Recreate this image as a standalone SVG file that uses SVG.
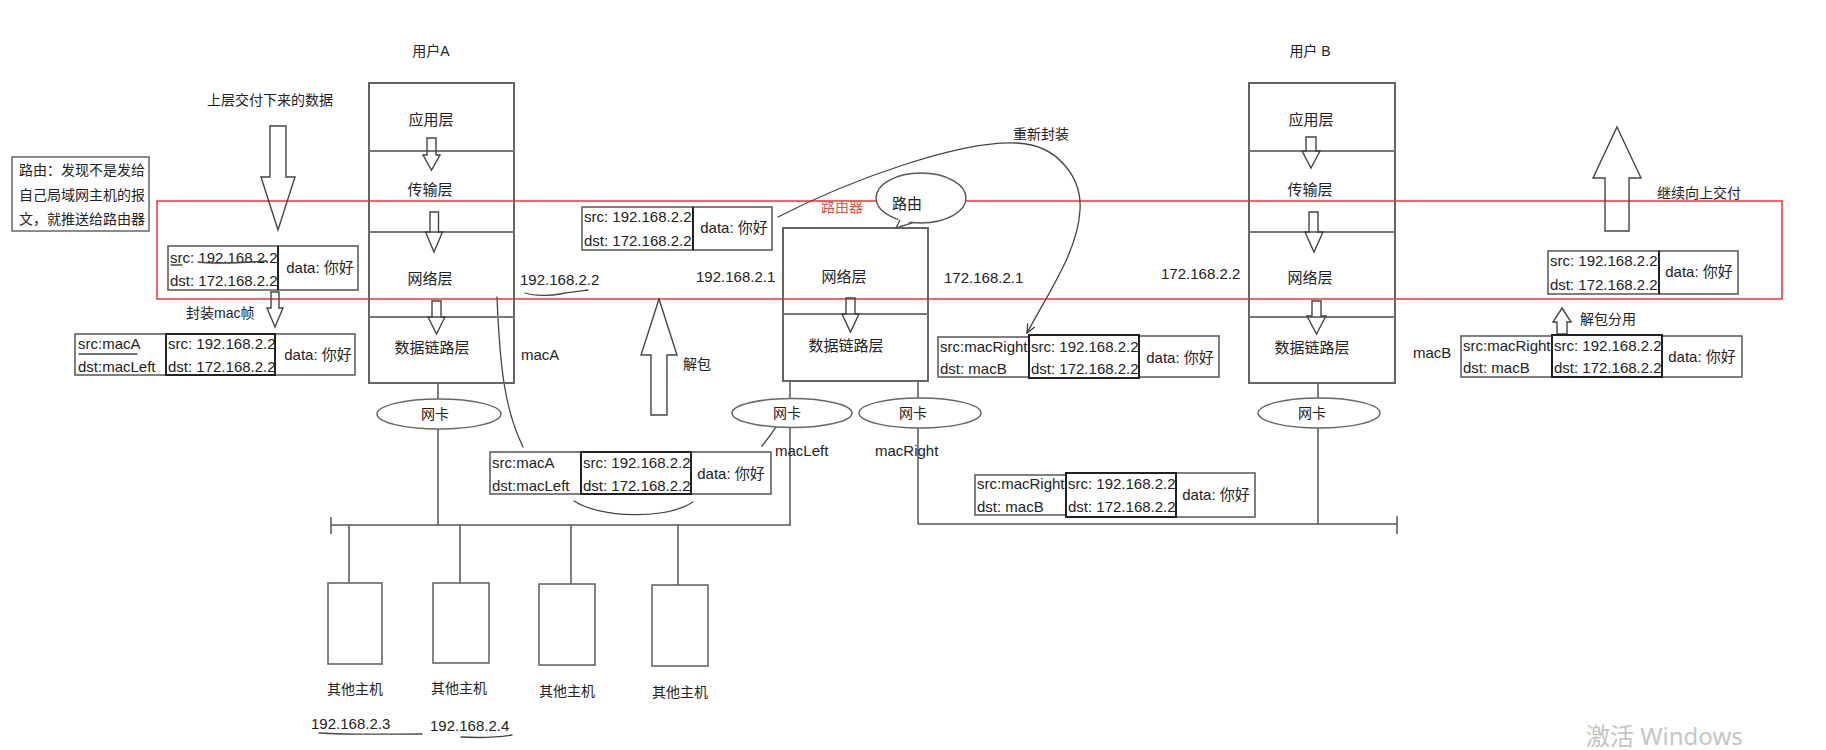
<svg xmlns="http://www.w3.org/2000/svg" width="1826" height="750" viewBox="0 0 1826 750">
<style>
  .t{font-family:"Liberation Sans","Noto Sans CJK SC",sans-serif;font-size:15px;fill:#222;dominant-baseline:central}
  .c{text-anchor:middle}
  .s14{font-size:14px}
  .box{fill:none;stroke:#666;stroke-width:2}
  .div{stroke:#777;stroke-width:2}
  .pk{fill:#fff;stroke:#555;stroke-width:1.5}
  .ip{fill:none;stroke:#222;stroke-width:2}
  .arr{fill:none;stroke:#444;stroke-width:1.4;stroke-linejoin:miter}
  .ln{fill:none;stroke:#555;stroke-width:1.5}
  .hand{fill:none;stroke:#444;stroke-width:1.3;stroke-linecap:round}
  .nic{fill:#fff;stroke:#666;stroke-width:1.5}
</style>
<defs>
  <marker id="open" viewBox="0 0 10 10" refX="9" refY="5" markerWidth="10" markerHeight="10" markerUnits="userSpaceOnUse" orient="auto">
    <path d="M0,1 L9,5 L0,9" fill="none" stroke="#333" stroke-width="1.2"/>
  </marker>
</defs>
<rect width="1826" height="750" fill="#fff"/>

<!-- connectors -->
<g id="connectors">
  <line class="ln" x1="438" y1="383" x2="438" y2="399"/>
  <line class="ln" x1="438" y1="429" x2="438" y2="525"/>
  <line class="ln" x1="790" y1="381" x2="790" y2="399"/>
  <line class="ln" x1="790" y1="428" x2="790" y2="525"/>
  <line class="ln" x1="918" y1="381" x2="918" y2="398"/>
  <line class="ln" x1="918" y1="428" x2="918" y2="524"/>
  <line class="ln" x1="1318" y1="383" x2="1318" y2="398"/>
  <line class="ln" x1="1318" y1="428" x2="1318" y2="524"/>
  <line class="ln" x1="331" y1="525" x2="791" y2="525"/>
  <line class="ln" x1="331" y1="517" x2="331" y2="534"/>
  <line class="ln" x1="349" y1="525" x2="349" y2="583"/>
  <line class="ln" x1="460" y1="525" x2="460" y2="583"/>
  <line class="ln" x1="571" y1="525" x2="571" y2="584"/>
  <line class="ln" x1="678" y1="525" x2="678" y2="585"/>
  <line class="ln" x1="918" y1="524" x2="1397" y2="524"/>
  <line class="ln" x1="1397" y1="516" x2="1397" y2="534"/>
  <path class="hand" d="M497,297 C500,370 505,410 523,447"/>
  <path class="hand" d="M762,446 C775,430 785,414 792,399" marker-end="url(#open)"/>
  <path class="hand" d="M778,217 C850,180 960,140 1017,143 C1060,145 1082,180 1080,210 C1078,250 1050,290 1027,333" marker-end="url(#open)"/>
  <path class="hand" d="M574,501 C600,518 665,520 693,502"/>
</g>

<rect id="network-layer-highlight" x="157" y="201" width="1625" height="98" fill="none" stroke="#e8141c" stroke-width="1.3"/>

<text class="t c s14" x="431" y="51">用户A</text>
<text class="t c s14" x="1310" y="51">用户 B</text>

<g id="stack-a">
  <rect class="box" x="369" y="83" width="145" height="300"/>
  <line class="div" x1="369" y1="151" x2="514" y2="151"/>
  <line class="div" x1="369" y1="232" x2="514" y2="232"/>
  <line class="div" x1="369" y1="317" x2="514" y2="317"/>
  <text class="t c" x="431" y="119">应用层</text>
  <text class="t c" x="430" y="189">传输层</text>
  <text class="t c" x="430" y="278">网络层</text>
  <text class="t c" x="432" y="347">数据链路层</text>
  <polygon class="arr" points="427,138 436,138 436,155 440,155 431.5,170 423,155 427,155"/>
  <polygon class="arr" points="430,212 438.5,212 438.5,232 442.5,232 434,252 425.5,232 430,232"/>
  <polygon class="arr" points="432,301 441,301 441,317 445,317 436.5,334 428,317 432,317"/>
</g>

<g id="stack-b">
  <rect class="box" x="1249" y="83" width="146" height="300"/>
  <line class="div" x1="1249" y1="151" x2="1395" y2="151"/>
  <line class="div" x1="1249" y1="232" x2="1395" y2="232"/>
  <line class="div" x1="1249" y1="317" x2="1395" y2="317"/>
  <text class="t c" x="1311" y="119">应用层</text>
  <text class="t c" x="1310" y="189">传输层</text>
  <text class="t c" x="1310" y="277">网络层</text>
  <text class="t c" x="1312" y="347">数据链路层</text>
  <polygon class="arr" points="1306,137 1316,137 1316,151 1320,151 1311,168 1302,151 1306,151"/>
  <polygon class="arr" points="1309,212 1318,212 1318,232 1323,232 1314,252 1305,232 1309,232"/>
  <polygon class="arr" points="1312,301 1321,301 1321,316 1326,316 1316.5,334 1307,316 1312,316"/>
</g>

<g id="router">
  <rect class="box" x="783" y="228" width="145" height="153"/>
  <line class="div" x1="783" y1="314" x2="928" y2="314"/>
  <text class="t c" x="844" y="276">网络层</text>
  <text class="t c" x="846" y="345">数据链路层</text>
  <polygon class="arr" points="846,298 855,298 855,314 859,314 850.5,332 842,314 846,314"/>
  <text class="t c s14" x="842" y="207" style="fill:#d9504f">路由器</text>
</g>

<g id="bubble-route">
  <ellipse cx="921" cy="198" rx="45" ry="25" fill="#fff" stroke="#555" stroke-width="1.4"/>
  <polygon points="899,218 896,228 914,220" fill="#fff"/>
  <polyline points="900,220 896,228 913,222.6" fill="none" stroke="#555" stroke-width="1.4"/>
  <text class="t c" x="907" y="203">路由</text>
</g>

<g id="nic-a"><ellipse class="nic" cx="439" cy="414" rx="62" ry="15"/><text class="t c s14" x="435" y="414">网卡</text></g>
<g id="nic-router-left"><ellipse class="nic" cx="792" cy="413" rx="60" ry="14.5"/><text class="t c s14" x="787" y="413">网卡</text></g>
<g id="nic-router-right"><ellipse class="nic" cx="920" cy="413" rx="61" ry="15"/><text class="t c s14" x="913" y="413">网卡</text></g>
<g id="nic-b"><ellipse class="nic" cx="1319" cy="413" rx="61" ry="15"/><text class="t c s14" x="1312" y="413">网卡</text></g>

<g id="host-1"><rect class="box" x="328" y="583" width="54" height="81" style="stroke-width:1.6"/><text class="t c s14" x="355" y="689">其他主机</text></g>
<g id="host-2"><rect class="box" x="433" y="583" width="56" height="80" style="stroke-width:1.6"/><text class="t c s14" x="459" y="688">其他主机</text></g>
<g id="host-3"><rect class="box" x="539" y="584" width="56" height="81" style="stroke-width:1.6"/><text class="t c s14" x="567" y="691">其他主机</text></g>
<g id="host-4"><rect class="box" x="652" y="585" width="56" height="81" style="stroke-width:1.6"/><text class="t c s14" x="680" y="692">其他主机</text></g>
<text class="t" x="311" y="723">192.168.2.3</text>
<path class="hand" d="M319,733 C350,735 390,734 422,734"/>
<text class="t" x="430" y="725">192.168.2.4</text>
<path class="hand" d="M461,737 C480,738 500,737 512,735"/>

<g id="note-routing">
  <rect x="12" y="157" width="137" height="74" fill="#fff" stroke="#666" stroke-width="1.5"/>
  <text class="t s14" x="19" y="170">路由：发现不是发给</text>
  <text class="t s14" x="19" y="195">自己局域网主机的报</text>
  <text class="t s14" x="19" y="219">文，就推送给路由器</text>
</g>

<g id="arrow-deliver-down">
  <text class="t c s14" x="270" y="100">上层交付下来的数据</text>
  <polygon class="arr" points="270,126 286,126 286,177 295,177 278,230 261,177 270,177"/>
</g>
<g id="arrow-encap-mac">
  <polygon class="arr" points="271,292 279,292 279,308 283,308 275,327 267,308 271,308"/>
  <text class="t s14" x="186" y="313">封装mac帧</text>
</g>
<g id="arrow-unpack">
  <polygon class="arr" points="659,299 677,355 667,355 667,415 651,415 651,355 641,355"/>
  <text class="t s14" x="683" y="364">解包</text>
</g>
<g id="arrow-deliver-up">
  <polygon class="arr" points="1617,127 1641,178 1629,178 1629,231 1605,231 1605,178 1593,178"/>
  <text class="t s14" x="1657" y="193">继续向上交付</text>
</g>
<g id="arrow-demux">
  <polygon class="arr" points="1562,308 1571,322 1567,322 1567,334 1557,334 1557,322 1553,322"/>
  <text class="t s14" x="1580" y="319">解包分用</text>
</g>
<text class="t s14" x="1013" y="134">重新封装</text>

<text class="t" x="520" y="279">192.168.2.2</text>
<path class="hand" d="M525,293 C535,296 550,296 560,294 C570,292 580,291 588,290"/>
<text class="t" x="696" y="276">192.168.2.1</text>
<text class="t" x="944" y="277">172.168.2.1</text>
<text class="t" x="1161" y="273">172.168.2.2</text>
<text class="t" x="521" y="354">macA</text>
<text class="t" x="775" y="450">macLeft</text>
<text class="t" x="875" y="450">macRight</text>
<text class="t" x="1413" y="352">macB</text>

<g id="pkt-ip-a">
  <rect class="pk" x="278" y="246" width="80" height="44"/>
  <rect class="pk" x="168" y="246" width="110" height="44"/>
  <line class="ip" x1="278" y1="246" x2="278" y2="290"/>
  <text class="t" x="170" y="257">src: 192.168.2.2</text>
  <text class="t" x="170" y="280">dst: 172.168.2.2</text>
  <text class="t c" x="320" y="267">data: 你好</text>
  <path class="hand" d="M171,265 L182,265"/>
  <path class="hand" d="M198,262 C215,264 240,263 267,261"/>
</g>
<g id="pkt-mac-a">
  <rect class="pk" x="75" y="334" width="91" height="41"/>
  <rect class="pk" x="275" y="334" width="80" height="41"/>
  <rect class="ip" x="166" y="334" width="109" height="41"/>
  <text class="t" x="78" y="343">src:macA</text>
  <text class="t" x="78" y="366">dst:macLeft</text>
  <text class="t" x="168" y="343">src: 192.168.2.2</text>
  <text class="t" x="168" y="366">dst: 172.168.2.2</text>
  <text class="t c" x="318" y="354">data: 你好</text>
  <path class="hand" d="M79,354 L137,354"/>
</g>
<g id="pkt-ip-router-in">
  <rect class="pk" x="693" y="207" width="79" height="43"/>
  <rect class="pk" x="582" y="207" width="111" height="43"/>
  <line class="ip" x1="693" y1="207" x2="693" y2="250"/>
  <text class="t" x="584" y="216">src: 192.168.2.2</text>
  <text class="t" x="584" y="240">dst: 172.168.2.2</text>
  <text class="t c" x="734" y="227">data: 你好</text>
</g>
<g id="pkt-mac-left">
  <rect class="pk" x="490" y="452" width="91" height="42"/>
  <rect class="pk" x="691" y="452" width="80" height="42"/>
  <rect class="ip" x="581" y="452" width="110" height="42"/>
  <text class="t" x="492" y="462">src:macA</text>
  <text class="t" x="492" y="485">dst:macLeft</text>
  <text class="t" x="583" y="462">src: 192.168.2.2</text>
  <text class="t" x="583" y="485">dst: 172.168.2.2</text>
  <text class="t c" x="731" y="473">data: 你好</text>
</g>
<g id="pkt-mac-router">
  <rect class="pk" x="938" y="337" width="91" height="40"/>
  <rect class="pk" x="1139" y="336" width="80" height="41"/>
  <rect class="ip" x="1029" y="335" width="110" height="43"/>
  <text class="t" x="940" y="346">src:macRight</text>
  <text class="t" x="940" y="368">dst: macB</text>
  <text class="t" x="1031" y="346">src: 192.168.2.2</text>
  <text class="t" x="1031" y="368">dst: 172.168.2.2</text>
  <text class="t c" x="1180" y="357">data: 你好</text>
</g>
<g id="pkt-mac-right">
  <rect class="pk" x="975" y="475" width="91" height="40"/>
  <rect class="pk" x="1176" y="473" width="79" height="44"/>
  <rect class="ip" x="1066" y="473" width="110" height="44"/>
  <text class="t" x="977" y="483">src:macRight</text>
  <text class="t" x="977" y="506">dst: macB</text>
  <text class="t" x="1068" y="483">src: 192.168.2.2</text>
  <text class="t" x="1068" y="506">dst: 172.168.2.2</text>
  <text class="t c" x="1216" y="494">data: 你好</text>
</g>
<g id="pkt-ip-b">
  <rect class="pk" x="1659" y="251" width="79" height="43"/>
  <rect class="pk" x="1548" y="251" width="111" height="43"/>
  <line class="ip" x1="1659" y1="251" x2="1659" y2="294"/>
  <text class="t" x="1550" y="260">src: 192.168.2.2</text>
  <text class="t" x="1550" y="284">dst: 172.168.2.2</text>
  <text class="t c" x="1699" y="271">data: 你好</text>
</g>
<g id="pkt-mac-b">
  <rect class="pk" x="1461" y="336" width="91" height="41"/>
  <rect class="pk" x="1662" y="336" width="80" height="41"/>
  <rect class="ip" x="1552" y="335" width="110" height="42"/>
  <text class="t" x="1463" y="345">src:macRight</text>
  <text class="t" x="1463" y="367">dst: macB</text>
  <text class="t" x="1554" y="345">src: 192.168.2.2</text>
  <text class="t" x="1554" y="367">dst: 172.168.2.2</text>
  <text class="t c" x="1702" y="356">data: 你好</text>
</g>

<text x="1586" y="745" style="font-family:'Noto Sans','Noto Sans CJK SC',sans-serif;font-size:24px;fill:#c4c4c4">激活 Windows</text>
</svg>
